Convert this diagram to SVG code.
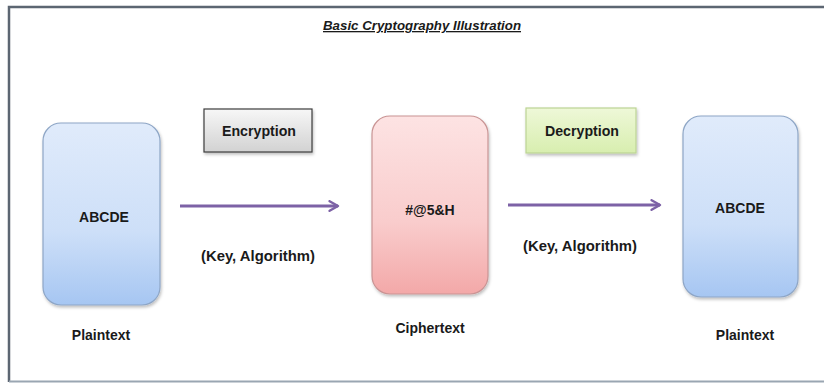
<svg xmlns="http://www.w3.org/2000/svg" width="824" height="383" viewBox="0 0 824 383">
<defs>
<linearGradient id="gBlue" x1="0" y1="0" x2="0" y2="1"><stop offset="0" stop-color="#e0ebfb"/><stop offset="0.6" stop-color="#cddff8"/><stop offset="1" stop-color="#a6c6f2"/></linearGradient>
<linearGradient id="gPink" x1="0" y1="0" x2="0" y2="1"><stop offset="0" stop-color="#fde3e3"/><stop offset="0.6" stop-color="#f9cccc"/><stop offset="1" stop-color="#f3a8a8"/></linearGradient>
<linearGradient id="gGray" x1="0" y1="0" x2="0" y2="1"><stop offset="0" stop-color="#f7f7f7"/><stop offset="1" stop-color="#d2d2d2"/></linearGradient>
<linearGradient id="gGreen" x1="0" y1="0" x2="0" y2="1"><stop offset="0" stop-color="#eef8d8"/><stop offset="1" stop-color="#d8eeaf"/></linearGradient>
<marker id="arr" viewBox="0 0 10 10" refX="8" refY="5" markerWidth="4" markerHeight="4" orient="auto" markerUnits="strokeWidth"><path d="M1,1 L8,5 L1,9" fill="none" stroke="#7d62a6" stroke-width="2" stroke-linecap="round" stroke-linejoin="round"/></marker>
<filter id="sh" x="-10%" y="-10%" width="130%" height="130%"><feDropShadow dx="1" dy="2" stdDeviation="1.5" flood-color="#000" flood-opacity="0.25"/></filter>
</defs>
<style>
text{font-family:"Liberation Sans",Arial,sans-serif;font-weight:bold;fill:#1a1a1a;text-anchor:middle}
.lbl{font-size:14px}
.big{font-size:14px}
.conn{stroke:#7d62a6;stroke-width:3;fill:none}
</style>
<rect x="0" y="0" width="824" height="383" fill="#ffffff"/>
<path d="M9,382 L9,7 L824,7" fill="none" stroke="#5c6672" stroke-width="2.5"/>
<line x1="9" y1="381.5" x2="824" y2="381.5" stroke="#9aa6b2" stroke-width="2"/>
<g id="title">
<text x="422" y="30" font-size="13" font-style="italic" text-decoration="underline" textLength="198" lengthAdjust="spacingAndGlyphs">Basic Cryptography Illustration</text>
</g>
<g id="connectors">
<line class="conn" x1="180" y1="206" x2="338" y2="206" marker-end="url(#arr)"/>
<line class="conn" x1="508" y1="205" x2="660" y2="205" marker-end="url(#arr)"/>
<text class="lbl" x="258" y="261" textLength="114" lengthAdjust="spacingAndGlyphs">(Key, Algorithm)</text>
<text class="lbl" x="580" y="251" textLength="114" lengthAdjust="spacingAndGlyphs">(Key, Algorithm)</text>
</g>
<g id="plain1">
<rect x="43" y="123" width="117" height="182" rx="18" fill="url(#gBlue)" stroke="#8ea6c6" stroke-width="1.2" filter="url(#sh)"/>
<text class="big" x="104" y="222">ABCDE</text>
<text class="lbl" x="101" y="340">Plaintext</text>
</g>
<g id="encryption">
<rect x="204" y="109" width="108" height="43" fill="url(#gGray)" stroke="#3c3c3c" stroke-width="1.2" filter="url(#sh)"/>
<text class="lbl" x="259" y="136" textLength="74" lengthAdjust="spacingAndGlyphs">Encryption</text>
</g>
<g id="cipher">
<rect x="372" y="116" width="116" height="178" rx="18" fill="url(#gPink)" stroke="#c99494" stroke-width="1.2" filter="url(#sh)"/>
<text class="big" x="430" y="215">#@5&amp;H</text>
<text class="lbl" x="430" y="333">Ciphertext</text>
</g>
<g id="decryption">
<rect x="526" y="108" width="110" height="45" fill="url(#gGreen)" stroke="#bcd494" stroke-width="1.2" filter="url(#sh)"/>
<text class="lbl" x="582" y="136" textLength="74" lengthAdjust="spacingAndGlyphs">Decryption</text>
</g>
<g id="plain2">
<rect x="683" y="116" width="115" height="181" rx="18" fill="url(#gBlue)" stroke="#8ea6c6" stroke-width="1.2" filter="url(#sh)"/>
<text class="big" x="740" y="213">ABCDE</text>
<text class="lbl" x="745" y="340">Plaintext</text>
</g>
</svg>
